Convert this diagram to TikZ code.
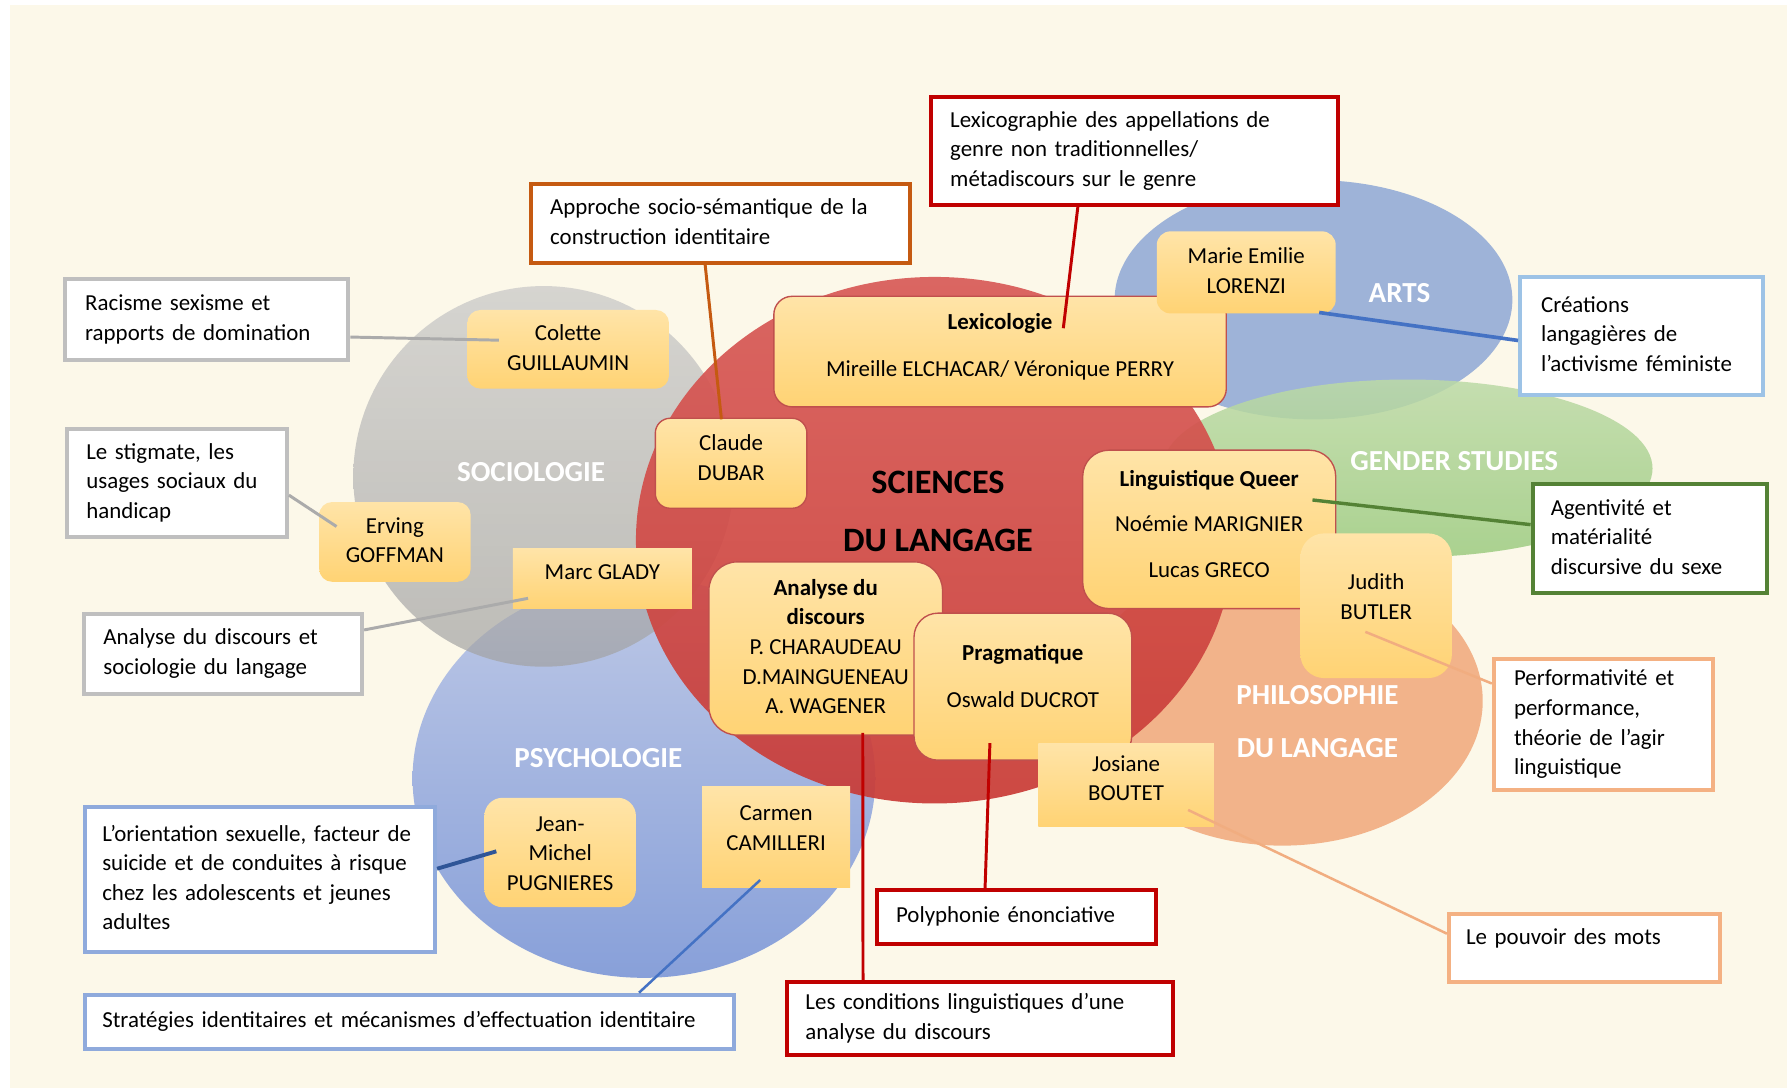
\documentclass[tikz,border=0pt]{standalone}
\usepackage{fontspec}
\setmainfont{Carlito}
\usetikzlibrary{calc}
\definecolor{cream}{HTML}{FCF8E9}
\definecolor{socTop}{HTML}{C6C6C6}
\definecolor{socBot}{HTML}{A2A2A2}
\definecolor{psyTop}{HTML}{BDC8E6}
\definecolor{psyBot}{HTML}{88A0D9}
\definecolor{redTop}{HTML}{D85A57}
\definecolor{redBot}{HTML}{C93B36}
\definecolor{arts}{HTML}{9EB3D8}
\definecolor{genTop}{HTML}{BCDAA6}
\definecolor{genBot}{HTML}{9CCB80}
\definecolor{phil}{HTML}{F2B38A}
\definecolor{yTop}{HTML}{FFE4A8}
\definecolor{yBot}{HTML}{FFD374}
\definecolor{yEdge}{HTML}{C0504D}
\definecolor{grayB}{HTML}{BFBFBF}
\definecolor{grayL}{HTML}{ABABAB}
\definecolor{blueB}{HTML}{8FAADC}
\definecolor{blueD}{HTML}{2F5597}
\definecolor{blueM}{HTML}{4472C4}
\definecolor{skyB}{HTML}{9DC3E6}
\definecolor{brownB}{HTML}{C55A11}
\definecolor{redB}{HTML}{C00000}
\definecolor{greenB}{HTML}{548235}
\definecolor{peachB}{HTML}{F4B183}
\definecolor{peachL}{HTML}{F1AD80}
\newcommand{\bodyfont}{\fontsize{20.1}{26}\selectfont}
\newcommand{\tl}[1]{\begin{tabular}{@{}l@{}}#1\end{tabular}}
\newcommand{\tc}[1]{\begin{tabular}{@{}c@{}}#1\end{tabular}}
\newcommand{\lifted}[2]{\raisebox{#1}[\height][\depth]{#2}}
\tikzset{
  obox/.style={draw, line width=3.5pt, fill=white, align=left, inner ysep=0pt,
    anchor=north west, font=\bodyfont},
  ybox/.style={top color=yTop, bottom color=yBot, draw=none, inner sep=0pt, font=\bodyfont},
  ybord/.style={ybox, draw=yEdge, line width=1.2pt},
  lab/.style={text=white, inner sep=0pt, font=\fontsize{25.5}{30}\selectfont\bfseries},
  conn/.style={line width=2.6pt},
}
\begin{document}
\begin{tikzpicture}[x=1pt,y=-1pt]
\useasboundingbox (0,0) rectangle (1568,957.3);
\fill[white] (0,0) rectangle (1568,957.3);
\fill[cream] (8.4,4.4) rectangle (1568,954.5);

% domain ellipses
\shade[top color=psyTop, bottom color=psyBot] (565,683) ellipse [x radius=203pt, y radius=175pt];
\shade[top color=socTop, bottom color=socBot, opacity=0.7] (477,418) circle [radius=167pt];
\fill[phil] (1125,615) ellipse [x radius=176pt, y radius=127pt];
\fill[arts] (1152.5,263) ellipse [x radius=174.5pt, y radius=105pt];
\shade[top color=genTop, bottom color=genBot, opacity=0.85] (1235,411) ellipse [x radius=215pt, y radius=78pt];
\shade[top color=redTop, bottom color=redBot, opacity=0.92] (820,474) ellipse [x radius=262pt, y radius=231pt];

% domain labels
\node[lab] (soc) at (466,414) {SOCIOLOGIE};
\node[lab] (psy) at (525,665) {PSYCHOLOGIE};
\node[lab] (art) at (1228,257) {ARTS};
\node[lab] (gen) at (1276,405) {GENDER STUDIES};
\node[lab, font=\fontsize{25.5}{46.5}\selectfont\bfseries] (phi) at (1156,632) {\tc{PHILOSOPHIE\\DU LANGAGE}};
\node[inner sep=0pt, font=\fontsize{30}{51}\selectfont\bfseries] (sdl) at (823,448) {\tc{SCIENCES\\DU LANGAGE}};

% yellow boxes
\node[ybox, rounded corners=11.5pt, minimum width=177pt, minimum height=69pt] (colette) at (498.5,306.5) {\tc{Colette\\GUILLAUMIN}};
\node[ybord, rounded corners=13pt, minimum width=133pt, minimum height=79pt] (claude) at (641.5,406.5) {\lifted{3.5pt}{\tc{Claude\\DUBAR}}};
\node[ybox, rounded corners=11.5pt, minimum width=133pt, minimum height=70pt] (erving) at (346.5,475.5) {\tc{Erving\\GOFFMAN}};
\node[ybox, minimum width=157pt, minimum height=53pt] (glady) at (528.5,507.5) {\lifted{5.5pt}{Marc GLADY}};
\node[ybord, rounded corners=16pt, minimum width=397pt, minimum height=97pt] (lexico) at (877.5,308.5) {\lifted{4pt}{\tc{\textbf{Lexicologie}\\[15pt]Mireille ELCHACAR/ Véronique PERRY}}};
\node[ybox, rounded corners=12pt, minimum width=157pt, minimum height=72pt] (lorenzi) at (1093.5,239) {\tc{Marie Emilie\\LORENZI}};
\node[ybord, rounded corners=23pt, minimum width=222pt, minimum height=139pt] (queer) at (1061,464.5) {\lifted{3pt}{\tc{\textbf{Linguistique Queer}\\[14pt]Noémie MARIGNIER\\[14pt]Lucas GRECO}}};
\node[ybox, rounded corners=21pt, minimum width=133pt, minimum height=127pt] (judith) at (1207.5,531.5) {\lifted{6.5pt}{\tc{Judith\\BUTLER}}};
\node[ybord, rounded corners=25pt, minimum width=205pt, minimum height=152pt] (analyse) at (724.5,569) {\tc{\textbf{Analyse du}\\\textbf{discours}\\P. CHARAUDEAU\\D.MAINGUENEAU\\A. WAGENER}};
\node[ybord, rounded corners=21pt, minimum width=191pt, minimum height=129pt] (prag) at (897.5,602.5) {\lifted{7.5pt}{\tc{\textbf{Pragmatique}\\[15pt]Oswald DUCROT}}};
\node[ybox, minimum width=154pt, minimum height=73pt] (josiane) at (988,688.5) {\lifted{4pt}{\tc{Josiane\\BOUTET}}};
\node[ybox, rounded corners=16pt, minimum width=133pt, minimum height=96pt] (jm) at (491.5,748) {\lifted{-2pt}{\tc{Jean-\\Michel\\PUGNIERES}}};
\node[ybox, minimum width=130pt, minimum height=89pt] (carmen) at (681,734.5) {\lifted{6.5pt}{\tc{Carmen\\CAMILLERI}}};

% outlined theme boxes
\node[obox, draw=grayB, text width=213.5pt, inner xsep=17.5pt, minimum height=71pt] (b1) at (55.5,243) {\tl{Racisme sexisme et\\rapports de domination}};
\node[obox, draw=grayB, text width=159pt, inner xsep=17pt, minimum height=95pt] (b2) at (57,374.5) {\tl{Le stigmate, les\\usages sociaux du\\handicap}};
\node[obox, draw=grayB, text width=210pt, inner xsep=17pt, minimum height=70pt] (b3) at (72,537) {\tl{Analyse du discours et\\sociologie du langage}};
\node[obox, draw=blueB, text width=277pt, inner xsep=15pt, minimum height=128pt] (b4) at (73,706) {\tl{L’orientation sexuelle, facteur de\\suicide et de conduites à risque\\chez les adolescents et jeunes\\adultes}};
\node[obox, draw=blueB, text width=539pt, inner xsep=15pt, minimum height=47.5pt] (b5) at (73,871) {\tl{Stratégies identitaires et mécanismes d’effectuation identitaire}};
\node[obox, draw=brownB, text width=299pt, inner xsep=17pt, minimum height=69pt] (b6) at (464,160) {\tl{Approche socio-sémantique de la\\construction identitaire}};
\node[obox, draw=redB, text width=323pt, inner xsep=17pt, minimum height=94.6pt] (b7) at (815,83.4) {\tl{Lexicographie des appellations de\\genre non traditionnelles/\\métadiscours sur le genre}};
\node[obox, draw=skyB, text width=176pt, inner xsep=18.5pt, minimum height=104pt] (b8) at (1332,241) {\tl{Créations\\langagières de\\l’activisme féministe}};
\node[obox, draw=greenB, text width=174pt, inner xsep=16pt, minimum height=96pt] (b9) at (1343,423) {\tl{Agentivité et\\matérialité\\discursive du sexe}};
\node[obox, draw=peachB, text width=156.6pt, inner xsep=17.7pt, minimum height=114.5pt] (b10) at (1309,576.5) {\tl{Performativité et\\performance,\\théorie de l’agir\\linguistique}};
\node[obox, draw=peachB, text width=208pt, inner xsep=15pt, minimum height=60pt] (b11) at (1269.6,800) {\lifted{8pt}{\tl{Le pouvoir des mots}}};
\node[obox, draw=redB, text width=211.6pt, inner xsep=16.5pt, minimum height=47.6pt] (b12) at (768,779) {\tl{Polyphonie énonciative}};
\node[obox, draw=redB, text width=306.6pt, inner xsep=16pt, minimum height=64pt] (b13) at (689,860) {\tl{Les conditions linguistiques d’une\\analyse du discours}};

% connectors
\draw[conn, grayL] ($(b1.east)+(0,15.5)$) -- ($(colette.west)+(28,-8)$);
\draw[conn, grayL] ($(b2.east)+(0,10.7)$) -- ($(erving.west)+(15.5,-13.5)$);
\draw[conn, grayL] ($(b3.east)+(0,-21)$) -- ($(glady.west)+(13.5,17.5)$);
\draw[conn, blueD, line width=3.4pt] ($(b4.east)+(0,-9.5)$) -- ($(jm.west)+(10.7,-1)$);
\draw[conn, blueM, line width=2.2pt] ($(b5.north)+(201.5,0)$) -- ($(carmen.south)+(-14,-7)$);
\draw[conn, brownB] ($(b6.south)+(-13.5,0)$) -- ($(claude.north)+(-8.5,1.5)$);
\draw[conn, redB] ($(b7.south)+(-49.5,0)$) -- ($(lexico.center)+(55.5,-20.5)$);
\draw[conn, blueM, line width=3.2pt] ($(b8.west)+(0,4)$) -- ($(lorenzi.south)+(64,-1)$);
\draw[conn, greenB, line width=3pt] ($(b9.west)+(0,-12.4)$) -- ($(queer.center)+(90.6,-25.8)$);
\draw[conn, peachL, line width=2.2pt] ($(b10.west)+(0,-35.75)$) -- ($(judith.center)+(-9.5,22.9)$);
\draw[conn, peachL, line width=2.2pt] ($(b11.west)+(0,-12.5)$) -- ($(josiane.center)+(54.5,22.2)$);
\draw[conn, redB] ($(b12.north)+(-27.7,0)$) -- ($(prag.center)+(-28.9,49.5)$);
\draw[conn, redB] ($(b13.north)+(-102.8,0)$) -- ($(analyse.center)+(32.5,74)$);
\end{tikzpicture}
\end{document}
